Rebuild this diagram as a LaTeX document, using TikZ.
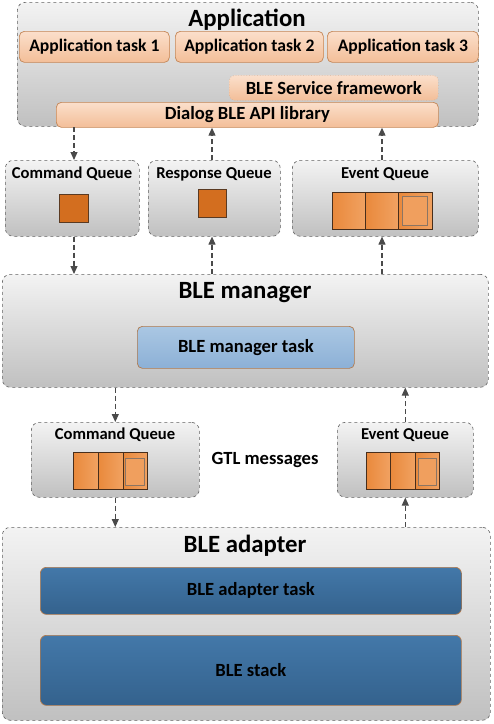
\documentclass[tikz,border=0pt]{standalone}
\usepackage{fontspec}
\setmainfont{Carlito}
\usetikzlibrary{arrows.meta,calc}
\definecolor{gtop}{HTML}{F3F3F3}
\definecolor{gbot}{HTML}{C0C0C0}
\definecolor{gline}{HTML}{606060}
\definecolor{otop}{HTML}{FBDFCB}
\definecolor{obot}{HTML}{F3BE98}
\definecolor{oline}{HTML}{C48656}
\definecolor{sqfill}{HTML}{D36E1F}
\definecolor{sqline}{HTML}{5A3A22}
\definecolor{cleft}{HTML}{E9893C}
\definecolor{cright}{HTML}{F1A262}
\definecolor{btop}{HTML}{AAC7E3}
\definecolor{bbot}{HTML}{8CB0D6}
\definecolor{bline}{HTML}{B27A4C}
\definecolor{dtop}{HTML}{4378A9}
\definecolor{dbot}{HTML}{34628D}
\definecolor{arrcol}{HTML}{4A4A4A}
\tikzset{
  gbox/.style={draw=gline, dashed, line width=0.6pt, rounded corners=8pt, top color=gtop, bottom color=gbot, anchor=north west, inner sep=0pt},
  obox/.style={draw=oline, line width=0.7pt, rounded corners=5pt, top color=otop, bottom color=obot, anchor=north west, inner sep=0pt},
  sbox/.style={draw=oline!60, dotted, line width=0.7pt, rounded corners=5pt, top color=otop, bottom color=obot, anchor=north west, inner sep=0pt},
  bbox/.style={draw=bline, line width=0.7pt, rounded corners=5pt, top color=btop, bottom color=bbot, anchor=north west, inner sep=0pt},
  dbox/.style={draw=bline, line width=0.7pt, rounded corners=6pt, top color=dtop, bottom color=dbot, anchor=north west, inner sep=0pt},
  title/.style={font=\bfseries\fontsize{24.8}{26}\selectfont, inner sep=0pt},
  qlabel/.style={font=\bfseries\fontsize{16.6}{18}\selectfont, inner sep=0pt},
  tlabel/.style={font=\bfseries\fontsize{17.6}{19}\selectfont, inner sep=0pt},
  mlabel/.style={font=\bfseries\fontsize{18.6}{20}\selectfont, inner sep=0pt},
  sq/.style={draw=sqline, line width=0.8pt, fill=sqfill, anchor=north west, inner sep=0pt},
  cell/.style={draw=sqline!80!black, line width=0.8pt, left color=cleft, right color=cright, anchor=north west, inner sep=0pt},
  icell/.style={draw=sqline!70, line width=0.8pt, fill=cright!90!cleft, anchor=north west, inner sep=0pt},
  arr/.style={draw=arrcol, dashed, dash pattern=on 5pt off 3pt, line width=1.1pt, -{Triangle[length=8pt,width=7pt]}},
}
\begin{document}
\begin{tikzpicture}[x=1pt,y=-1pt]
\useasboundingbox (0,0) rectangle (494,724);
% Application
\node[gbox, minimum width=461pt, minimum height=124pt] (app) at (17,2) {};
\node[title] (apptitle) at (247,20) {Application};
\node[obox, minimum width=150pt, minimum height=31pt] (t1) at (19,31) {};
\node[tlabel] (t1l) at (t1.center) {Application task 1};
\node[obox, minimum width=148pt, minimum height=31pt] (t2) at (175,31) {};
\node[tlabel] (t2l) at (t2.center) {Application task 2};
\node[obox, minimum width=151pt, minimum height=31pt] (t3) at (327,31) {};
\node[tlabel] (t3l) at (t3.center) {Application task 3};
\node[sbox, minimum width=209pt, minimum height=25pt] (svc) at (229,75) {};
\node[mlabel] (svcl) at (svc.center) {BLE Service framework};
\node[obox, minimum width=382pt, minimum height=25pt] (api) at (56,102) {};
\node[mlabel] (apil) at (api.center) {Dialog BLE API library};
% Queues upper
\node[gbox, minimum width=134pt, minimum height=76pt] (cq) at (5,160) {};
\node[qlabel] (cql) at (72,174) {Command Queue};
\node[sq, minimum width=29pt, minimum height=28pt] (cqs) at (59,194) {};
\node[gbox, minimum width=132pt, minimum height=76pt] (rq) at (148,160) {};
\node[qlabel] (rql) at (214,174) {Response Queue};
\node[sq, minimum width=28pt, minimum height=28pt] (rqs) at (198,189) {};
\node[gbox, minimum width=186pt, minimum height=76pt] (eq) at (292,160) {};
\node[qlabel] (eql) at (385,174) {Event Queue};
\node[cell, minimum width=33pt, minimum height=37pt] (e1) at (332,192) {};
\node[cell, minimum width=33pt, minimum height=37pt] (e2) at (365,192) {};
\node[cell, minimum width=34pt, minimum height=37pt] (e3) at (398,192) {};
\node[icell, minimum width=25pt, minimum height=29pt] (e3i) at (402,196) {};
% Manager
\node[gbox, minimum width=486pt, minimum height=113pt] (mgr) at (2,274) {};
\node[title] (mgrtitle) at (245,293) {BLE manager};
\node[bbox, minimum width=217pt, minimum height=42pt] (mtask) at (137,326) {};
\node[mlabel] (mtaskl) at (mtask.center) {BLE manager task};
% Queues lower
\node[gbox, minimum width=168pt, minimum height=75pt] (cq2) at (31,422) {};
\node[qlabel] (cq2l) at (115,435) {Command Queue};
\node[cell, minimum width=25pt, minimum height=37pt] (c1) at (73,452) {};
\node[cell, minimum width=25pt, minimum height=37pt] (c2) at (98,452) {};
\node[cell, minimum width=24pt, minimum height=37pt] (c3) at (123,452) {};
\node[icell, minimum width=19pt, minimum height=27pt] (c3i) at (125,458) {};
\node[gbox, minimum width=136pt, minimum height=75pt] (eq2) at (337,422) {};
\node[qlabel] (eq2l) at (405,435) {Event Queue};
\node[cell, minimum width=24pt, minimum height=37pt] (f1) at (366,452) {};
\node[cell, minimum width=25pt, minimum height=37pt] (f2) at (390,452) {};
\node[cell, minimum width=24pt, minimum height=37pt] (f3) at (415,452) {};
\node[icell, minimum width=18pt, minimum height=27pt] (f3i) at (418,458) {};
\node[mlabel] (gtl) at (265,460) {GTL messages};
% Adapter
\node[gbox, minimum width=488pt, minimum height=193pt] (ada) at (2,527) {};
\node[title] (adatitle) at (245,546) {BLE adapter};
\node[dbox, minimum width=421pt, minimum height=47pt] (atask) at (40,567) {};
\node[mlabel] (atl) at (atask.center) {BLE adapter task};
\node[dbox, minimum width=421pt, minimum height=70pt] (stack) at (40,635) {};
\node[mlabel] (stl) at (stack.center) {BLE stack};
% Arrows
\coordinate (a1) at (74,127);
\coordinate (a1b) at (74,160);
\draw[arr] (a1) -- (a1b);
\draw[arr] (cq.south -| a1) -- (mgr.north -| a1);
\coordinate (a2) at (212,160);
\draw[arr] (a2) -- (api.south -| a2);
\draw[arr] (mgr.north -| a2) -- (rq.south -| a2);
\coordinate (a3) at (382,160);
\draw[arr] (a3) -- (api.south -| a3);
\draw[arr] (mgr.north -| a3) -- (eq.south -| a3);
\draw[arr] (mgr.south -| cq2.north) -- (cq2.north);
\draw[arr] (cq2.south) -- (ada.north -| cq2.south);
\draw[arr] (eq2.north) -- (mgr.south -| eq2.north);
\draw[arr] (ada.north -| eq2.south) -- (eq2.south);
\end{tikzpicture}
\end{document}
